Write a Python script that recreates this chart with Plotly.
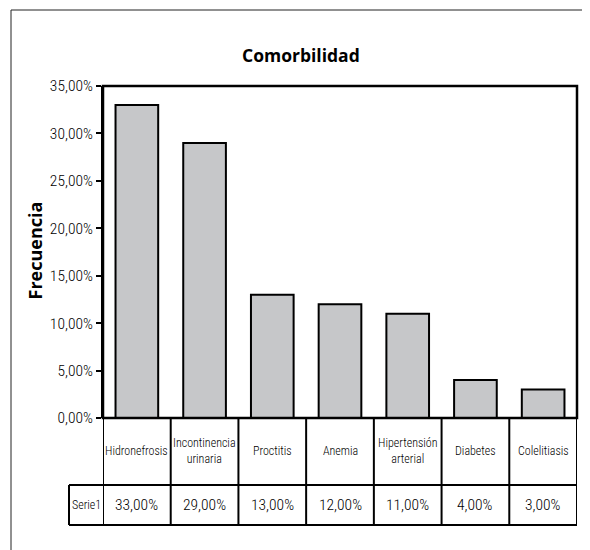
import plotly.graph_objects as go

categories = ["Hidronefrosis", "Incontinencia<br>urinaria", "Proctitis", "Anemia",
              "Hipertensión<br>arterial", "Diabetes", "Colelitiasis"]
values = [33, 29, 13, 12, 11, 4, 3]
value_labels = ["33,00%", "29,00%", "13,00%", "12,00%", "11,00%", "4,00%", "3,00%"]
series_name = "Serie1"
tick_vals = [0, 5, 10, 15, 20, 25, 30, 35]
tick_text = ["0,00%", "5,00%", "10,00%", "15,00%", "20,00%", "25,00%", "30,00%", "35,00%"]

FONT = "Roboto Condensed, Roboto, sans-serif"
BOLD = "Open Sans, Noto Sans, sans-serif"

OFF = 8  # page body margin
W, H = 590 - OFF, 550 - OFF
L, R, T, B = 103, 577, 86, 418  # target screen coords of plot area
pw, ph = R - L, B - T

def px(x):
    return (x - L) / pw

def py(y):
    return (B - y) / ph

n = len(categories)
xs = list(range(n))

fig = go.Figure()
fig.add_trace(go.Bar(
    x=xs, y=values, width=0.63,
    marker=dict(color="#c6c7c9", line=dict(color="black", width=2)),
    hoverinfo="skip",
))

shapes = []
shapes.append(dict(type="rect", xref="paper", yref="paper",
                   x0=px(11), x1=px(620), y0=py(580), y1=py(10),
                   line=dict(color="#222", width=1)))
shapes.append(dict(type="rect", xref="paper", yref="paper",
                   x0=0, x1=1, y0=0, y1=1, line=dict(color="black", width=2.5)))
row1 = py(485)
row2 = py(525)
shapes.append(dict(type="line", xref="paper", yref="paper", x0=px(69), x1=1, y0=row1, y1=row1,
                   line=dict(color="black", width=2)))
shapes.append(dict(type="line", xref="paper", yref="paper", x0=px(69), x1=1, y0=row2, y1=row2,
                   line=dict(color="black", width=2)))
shapes.append(dict(type="line", xref="paper", yref="paper", x0=px(69), x1=px(69), y0=row2, y1=row1,
                   line=dict(color="black", width=2)))
for i in range(n + 1):
    shapes.append(dict(type="line", xref="x", yref="paper", x0=i - 0.5, x1=i - 0.5,
                       y0=row2, y1=0, line=dict(color="black", width=2)))

annotations = []
def ann(text, x, y, size, family=FONT, xref="paper", angle=0, weight=350):
    annotations.append(dict(text=text, xref=xref, yref="paper", x=x, y=y, showarrow=False,
                            xanchor="center", yanchor="middle", textangle=angle,
                            font=dict(family=family, size=size, color="black", weight=weight)))

ann("<b>Comorbilidad</b>", px(301), py(55), 17.5, BOLD, weight=700)
ann("<b>Frecuencia</b>", px(34.5), py(251), 18, BOLD, angle=-90, weight=700)
ann(series_name, px(86.5), py(505), 12)
for i, (c, v) in enumerate(zip(categories, value_labels)):
    ann(c, i, py(451), 12, xref="x")
    ann(v, i, py(505), 15.5, xref="x")

fig.update_layout(
    width=W, height=H,
    margin=dict(l=L - OFF, r=W - (R - OFF), t=T - OFF, b=H - (B - OFF)),
    paper_bgcolor="white", plot_bgcolor="white",
    showlegend=False,
    shapes=shapes, annotations=annotations,
    xaxis=dict(range=[-0.5, n - 0.5], showticklabels=False, showgrid=False,
               zeroline=False, showline=False, ticks=""),
    yaxis=dict(range=[0, 35], tickvals=tick_vals, ticktext=tick_text,
               ticks="outside", ticklen=5, tickwidth=2, tickcolor="black",
               showgrid=False, zeroline=False, showline=True, linecolor="black", linewidth=2,
               tickfont=dict(family=FONT, size=15.5, color="black", weight=350)),
)

fig.write_html("out.html")
